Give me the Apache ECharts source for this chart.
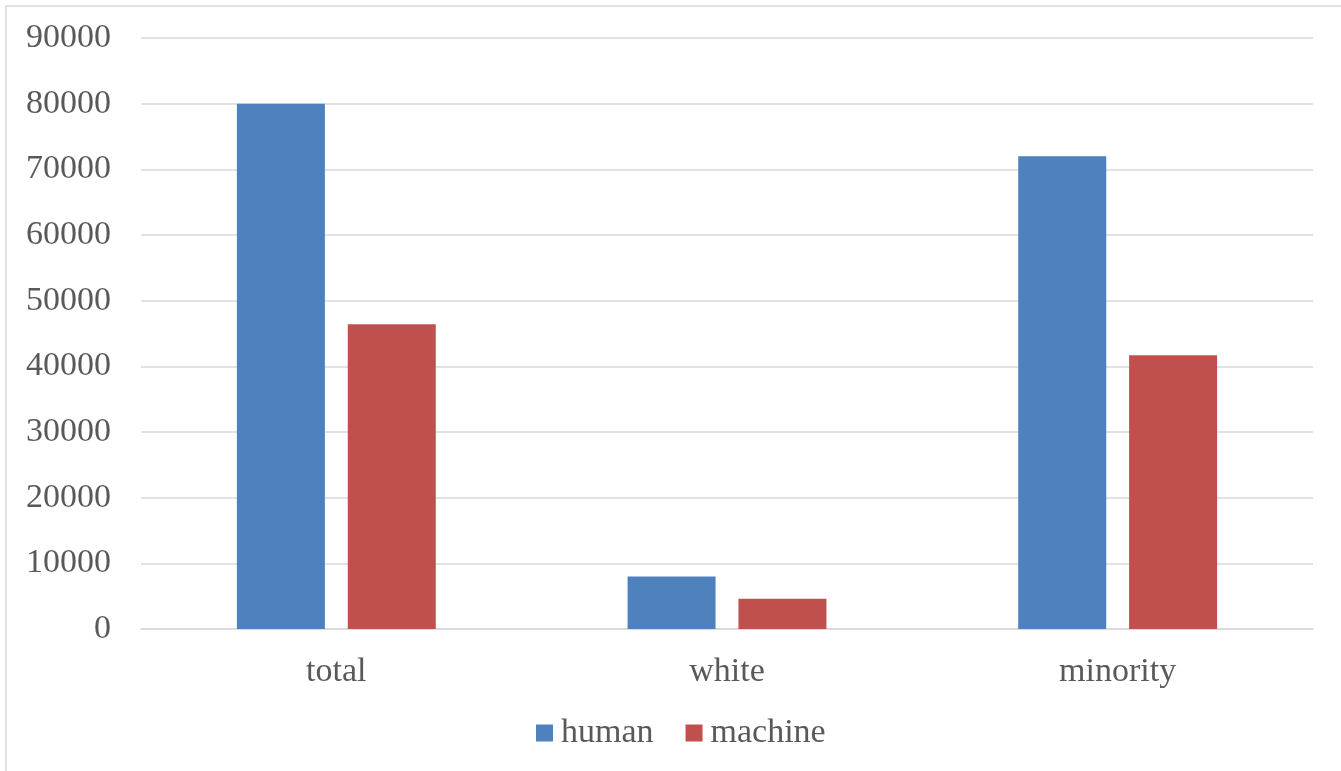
<!DOCTYPE html>
<html>
<head>
<meta charset="utf-8">
<script src="https://cdn.jsdelivr.net/npm/echarts@6/dist/echarts.min.js"></script>
<style>
html,body{margin:0;padding:0;background:#fff;}
#main{width:1341px;height:771px;}
</style>
</head>
<body>
<div id="main"></div>
<script>
const categories = ['total', 'white', 'minority'];
const humanValues = [80000, 8000, 72000];
const machineValues = [46400, 4600, 41700];
const seriesNames = ['human', 'machine'];

const chart = echarts.init(document.getElementById('main'));
const FONT = '"Liberation Serif", serif';
chart.setOption({
  animation: false,
  backgroundColor: '#ffffff',
  textStyle: { fontFamily: FONT },
  graphic: [{
    type: 'rect',
    shape: { x: 6, y: 6, width: 1500, height: 1500 },
    style: { fill: 'none', stroke: '#d9d9d9', lineWidth: 1.5 },
    silent: true
  }],
  grid: { left: 141, right: 28, top: 38, bottom: 142, containLabel: false },
  legend: {
    data: seriesNames,
    top: 716,
    left: 536,
    padding: 0,
    icon: 'rect',
    itemWidth: 17,
    itemHeight: 17,
    itemGap: 32,
    textStyle: { fontFamily: FONT, fontSize: 34, color: '#595959', padding: [0, 0, 0, 3] }
  },
  xAxis: {
    type: 'category',
    data: categories,
    axisLine: { lineStyle: { color: '#d9d9d9', width: 1.5 } },
    axisTick: { show: false },
    axisLabel: { fontFamily: FONT, fontSize: 34, color: '#595959', margin: 26 }
  },
  yAxis: {
    type: 'value',
    min: 0,
    max: 90000,
    interval: 10000,
    axisLine: { show: false },
    axisTick: { show: false },
    splitLine: { lineStyle: { color: '#d9d9d9', width: 1.5 } },
    axisLabel: { fontFamily: FONT, fontSize: 34, color: '#595959', margin: 30,
      formatter: function (v) { return String(v); } }
  },
  series: [
    { name: seriesNames[0], type: 'bar', data: humanValues, barWidth: 88, barGap: '26%',
      itemStyle: { color: '#4F81BD' } },
    { name: seriesNames[1], type: 'bar', data: machineValues, barWidth: 88, barGap: '26%',
      itemStyle: { color: '#C0504D' } }
  ]
});
</script>
</body>
</html>
